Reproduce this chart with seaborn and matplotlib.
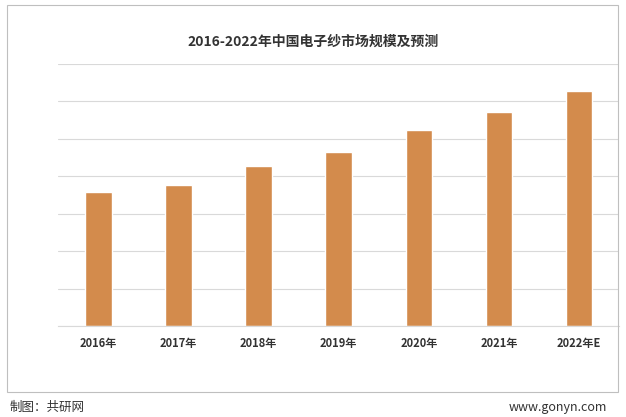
import matplotlib
matplotlib.use("Agg")
import matplotlib.pyplot as plt
import seaborn as sns
import pandas as pd

years = ["2016年", "2017年", "2018年", "2019年", "2020年", "2021年", "2022年E"]
values = [3.57, 3.76, 4.27, 4.64, 5.23, 5.71, 6.27]

sns.set_style("white")
plt.rcParams['font.family'] = ['Noto Sans CJK SC', 'DejaVu Sans']

df = pd.DataFrame({"year": years, "value": values})

fig = plt.figure(figsize=(6.26, 4.17), dpi=100)
ax = fig.add_axes([0.093, 0.218, 0.896, 0.629])
sns.barplot(data=df, x="year", y="value", color="#D38B4C", saturation=1, width=0.33, ax=ax)

ax.set_ylim(0, 7)
ax.set_yticks(range(0, 8))
ax.set_yticklabels([])
ax.tick_params(axis='y', length=0)
ax.tick_params(axis='x', length=0, labelsize=8, colors="#333333", pad=8)
for lbl in ax.get_xticklabels():
    lbl.set_fontweight("bold")
ax.grid(axis='y', color="#d9d9d9", linewidth=0.8)
ax.set_axisbelow(True)
ax.set_xlabel("")
ax.set_ylabel("")
for s in ["top", "right", "left"]:
    ax.spines[s].set_visible(False)
ax.spines["bottom"].set_color("#d9d9d9")

fig.text(0.5, 0.9, "2016-2022年中国电子纱市场规模及预测", ha="center", va="center",
         fontsize=10, fontweight="bold", color="#333333")

# outer frame
frame = plt.Rectangle((0.011, 0.06), 0.977, 0.928, transform=fig.transFigure,
                      fill=False, edgecolor="#bfbfbf", linewidth=0.8)
fig.add_artist(frame)

fig.text(0.016, 0.022, "制图：共研网", ha="left", va="center", fontsize=9, color="#333333")
fig.text(0.97, 0.022, "www.gonyn.com", ha="right", va="center", fontsize=9, color="#333333")

fig.savefig("out.png", dpi=100)
